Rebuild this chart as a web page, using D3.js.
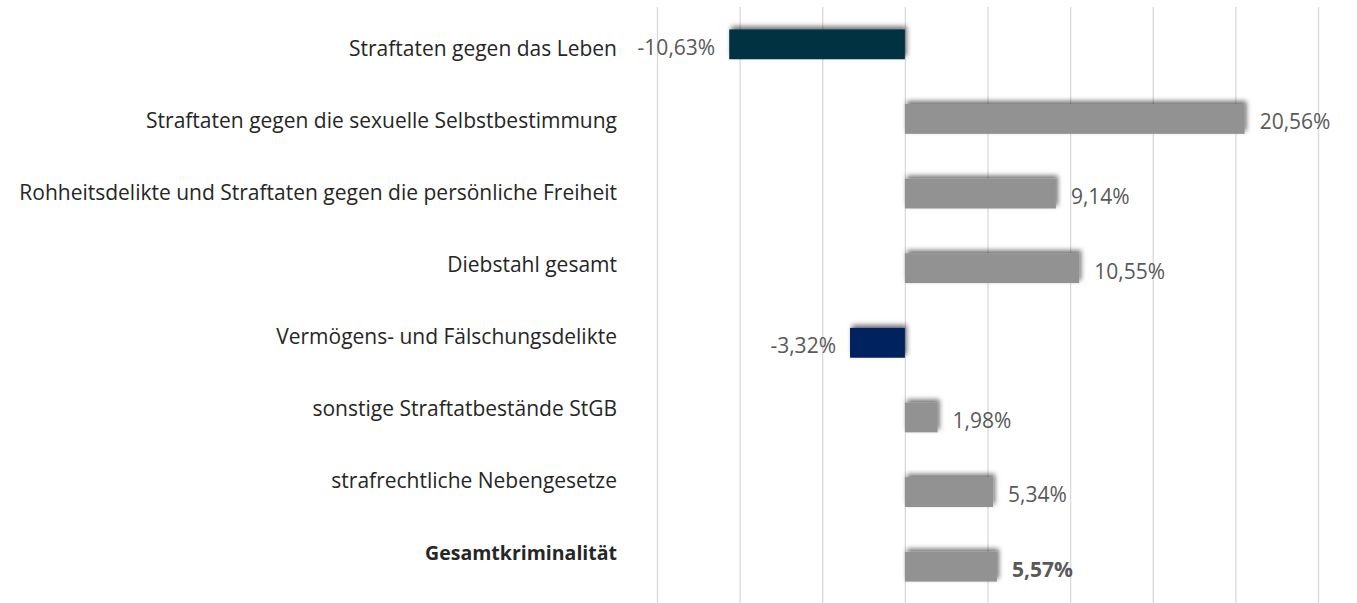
<!DOCTYPE html>
<html>
<head>
<meta charset="utf-8">
<script src="https://cdn.jsdelivr.net/npm/d3@7"></script>
<style>
  body { margin: 0; background: #fff; }
  svg { display: block; font-family: "Open Sans", sans-serif; }
</style>
</head>
<body>
<div id="chart"></div>
<script>
// Veränderung der Fallzahlen nach Deliktsgruppen
const categories = [
  'Straftaten gegen das Leben',
  'Straftaten gegen die sexuelle Selbstbestimmung',
  'Rohheitsdelikte und Straftaten gegen die persönliche Freiheit',
  'Diebstahl gesamt',
  'Vermögens- und Fälschungsdelikte',
  'sonstige Straftatbestände StGB',
  'strafrechtliche Nebengesetze',
  'Gesamtkriminalität'
];
const values = [-10.63, 20.56, 9.14, 10.55, -3.32, 1.98, 5.34, 5.57];
const barColors = ['#023343', '#929292', '#929292', '#929292', '#00215e', '#929292', '#929292', '#929292'];
const gridTicks = [-15, -10, -5, 0, 5, 10, 15, 20, 25];

const width = 1357;
const height = 603;

const de = d3.formatLocale({ decimal: ',', thousands: '.', grouping: [3], currency: ['', ' €'], minus: '-' });
const fmt = v => de.format('.2f')(v) + '%';
const isTotal = i => i === categories.length - 1;

const svg = d3.select('#chart').append('svg')
  .attr('width', width)
  .attr('height', height);

// shadow like the excel bars (up and to the right)
const defs = svg.append('defs');
const shadow = defs.append('filter').attr('id', 'shadow')
  .attr('x', '-20%').attr('y', '-40%').attr('width', '140%').attr('height', '180%');
shadow.append('feDropShadow')
  .attr('dx', 2).attr('dy', -3).attr('stdDeviation', 2.5)
  .attr('flood-color', '#000').attr('flood-opacity', 0.55);

const x = d3.scaleLinear().domain([-15, 25]).range([657, 1318]);
const y = d3.scaleBand().domain(categories).range([7, 604]).paddingInner(0.6).paddingOuter(0.3);
// category labels sit on a slightly tighter pitch than the bars
const yLabel = d3.scalePoint().domain(categories).range([49, 553]);

// gridlines
svg.append('g')
  .selectAll('line')
  .data(gridTicks)
  .join('line')
  .attr('x1', d => x(d) + 0.5)
  .attr('x2', d => x(d) + 0.5)
  .attr('y1', 7)
  .attr('y2', height)
  .attr('stroke', '#d9d9d9')
  .attr('stroke-width', 1.3);

// bars
svg.append('g')
  .selectAll('rect')
  .data(values)
  .join('rect')
  .attr('x', d => x(Math.min(0, d)))
  .attr('y', (d, i) => y(categories[i]))
  .attr('width', d => Math.abs(x(d) - x(0)))
  .attr('height', y.bandwidth())
  .attr('fill', (d, i) => barColors[i])
  .attr('filter', 'url(#shadow)');

// value labels
svg.append('g')
  .selectAll('text')
  .data(values)
  .join('text')
  .attr('x', d => d < 0 ? x(d) - 14 : x(d) + 15)
  .attr('y', (d, i) => y(categories[i]) + y.bandwidth() / 2 + 3)
  .attr('dy', '0.35em')
  .attr('text-anchor', d => d < 0 ? 'end' : 'start')
  .attr('font-size', 21)
  .attr('fill', '#595959')
  .attr('font-weight', (d, i) => isTotal(i) ? 'bold' : null)
  .text(d => fmt(d));

// category labels
svg.append('g')
  .selectAll('text')
  .data(categories)
  .join('text')
  .attr('x', 617)
  .attr('y', d => yLabel(d))
  .attr('dy', '0.35em')
  .attr('text-anchor', 'end')
  .attr('font-size', (d, i) => isTotal(i) ? 19.5 : 21)
  .attr('fill', '#262626')
  .attr('font-weight', (d, i) => isTotal(i) ? 'bold' : null)
  .text(d => d);
</script>
</body>
</html>
